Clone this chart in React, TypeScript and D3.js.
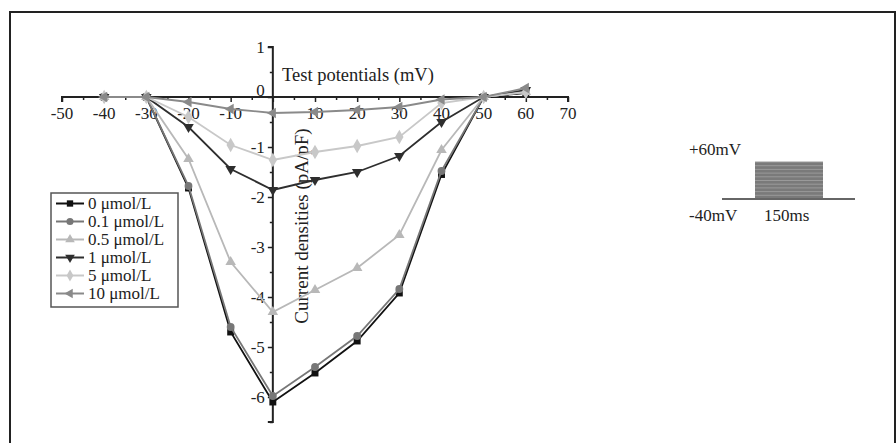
import React, { useEffect, useRef } from "react";
import * as d3 from "d3";

const potentials = [-40, -30, -20, -10, 0, 10, 20, 30, 40, 50, 60];

const seriesNames = ["0 μmol/L", "0.1 μmol/L", "0.5 μmol/L", "1 μmol/L", "5 μmol/L", "10 μmol/L"];

const conc0 = [0, 0, -1.82, -4.7, -6.1, -5.52, -4.88, -3.92, -1.55, 0, 0.08];
const conc01 = [0, 0, -1.78, -4.6, -5.98, -5.4, -4.78, -3.84, -1.48, 0, 0.1];
const conc05 = [0, 0, -1.24, -3.3, -4.3, -3.86, -3.42, -2.76, -1.06, 0, 0.1];
const conc1 = [0, 0, -0.6, -1.44, -1.86, -1.66, -1.5, -1.18, -0.5, 0, 0.14];
const conc5 = [0, 0, -0.4, -0.96, -1.26, -1.1, -0.98, -0.8, -0.12, 0, 0.1];
const conc10 = [0, 0, -0.1, -0.24, -0.32, -0.3, -0.26, -0.2, -0.05, 0, 0.18];

const seriesValues = [conc0, conc01, conc05, conc1, conc5, conc10];

const xTicks = [-50, -40, -30, -20, -10, 0, 10, 20, 30, 40, 50, 60, 70];
const yTicks = [1, 0, -1, -2, -3, -4, -5, -6];

// inset protocol: holding -40 mV, steps up to +60 mV for 150 ms
const stepLevels = [-30, -20, -10, 0, 10, 20, 30, 40, 50, 60];

const colors = ["#111111", "#777777", "#b8b8b8", "#2e2e2e", "#c8c8c8", "#8a8a8a"];
const symbols = [d3.symbolSquare, d3.symbolCircle, d3.symbolTriangle, d3.symbolTriangle, d3.symbolDiamond, d3.symbolTriangle];
const rotations = [0, 0, 0, 180, 0, -90];

const font = "'Liberation Serif', 'DejaVu Serif', serif";

function Chart() {
  const ref = useRef<SVGSVGElement>(null);

  useEffect(() => {
    const svg = d3.select(ref.current);
    svg.selectAll("*").remove();

    // frame
    svg.append("rect")
      .attr("x", 10).attr("y", 12)
      .attr("width", 885).attr("height", 445)
      .attr("fill", "none")
      .attr("stroke", "#222")
      .attr("stroke-width", 2);

    const xScale = d3.scaleLinear().domain([-50, 70]).range([62, 568]);
    const yScale = d3.scaleLinear().domain([-6.5, 1]).range([422, 47]);
    const x0 = xScale(0);
    const y0 = yScale(0);

    // x axis along y = 0
    const xAxis = d3.axisBottom(xScale)
      .tickValues(d3.range(-50, 71, 5))
      .tickSize(4)
      .tickFormat(() => "");
    const gx = svg.append("g")
      .attr("transform", `translate(0, ${y0})`)
      .call(xAxis);
    gx.select(".domain").attr("stroke", "#222").attr("stroke-width", 2)
      .attr("d", `M${xScale(-50)},5V0H${xScale(70)}V5`);
    gx.selectAll(".tick line").attr("stroke", "#222").attr("stroke-width", 1.5)
      .attr("y2", (d: any) => (d % 10 === 0 ? 5 : 3));

    svg.append("g").selectAll("text")
      .data(xTicks.filter(d => d !== 0))
      .enter()
      .append("text")
      .attr("x", d => xScale(d))
      .attr("y", y0 + 22)
      .attr("text-anchor", "middle")
      .attr("font-family", font)
      .attr("font-size", 17)
      .attr("fill", "#222")
      .text(d => d);

    // y axis along x = 0
    const yAxis = d3.axisLeft(yScale)
      .tickValues(d3.range(-6.5, 1.01, 0.5))
      .tickSize(4)
      .tickFormat(() => "");
    const gy = svg.append("g")
      .attr("transform", `translate(${x0}, 0)`)
      .call(yAxis);
    gy.select(".domain").attr("stroke", "#222").attr("stroke-width", 2)
      .attr("d", `M-5,${yScale(1)}H0V${yScale(-6.5)}H-5`);
    gy.selectAll(".tick line").attr("stroke", "#222").attr("stroke-width", 1.5)
      .attr("x2", (d: any) => (Math.abs(d % 1) < 1e-6 ? -5 : -3));

    svg.append("g").selectAll("text")
      .data(yTicks)
      .enter()
      .append("text")
      .attr("x", x0 - 8)
      .attr("y", d => yScale(d) + (d === 0 ? -1 : 6))
      .attr("text-anchor", "end")
      .attr("font-family", font)
      .attr("font-size", 17)
      .attr("fill", "#222")
      .text(d => d);

    // axis titles
    svg.append("text")
      .attr("x", 282).attr("y", 81)
      .attr("font-family", font)
      .attr("font-size", 18.5)
      .attr("fill", "#222")
      .text("Test potentials (mV)");

    svg.append("text")
      .attr("transform", `translate(308, 226) rotate(-90)`)
      .attr("text-anchor", "middle")
      .attr("font-family", font)
      .attr("font-size", 19)
      .attr("fill", "#222")
      .text("Current densities (pA/pF)");

    // series
    const line = d3.line<number>()
      .x((d, i) => xScale(potentials[i]))
      .y(d => yScale(d));

    seriesValues.forEach((vals, s) => {
      const g = svg.append("g");
      g.append("path")
        .datum(vals)
        .attr("d", line)
        .attr("fill", "none")
        .attr("stroke", colors[s])
        .attr("stroke-width", 1.8);
      g.selectAll("path.pt")
        .data(vals)
        .enter()
        .append("path")
        .attr("class", "pt")
        .attr("d", d3.symbol().type(symbols[s]).size(s === 4 ? 60 : 48)())
        .attr("transform", (d, i) => `translate(${xScale(potentials[i])}, ${yScale(d)}) rotate(${rotations[s]})`)
        .attr("fill", colors[s]);
    });

    // legend
    const legend = svg.append("g");
    legend.append("rect")
      .attr("x", 51).attr("y", 193)
      .attr("width", 127).attr("height", 114)
      .attr("fill", "#fff")
      .attr("stroke", "#555")
      .attr("stroke-width", 1.5);
    seriesNames.forEach((name, s) => {
      const ly = 203.5 + s * 18;
      legend.append("line")
        .attr("x1", 56).attr("x2", 84)
        .attr("y1", ly).attr("y2", ly)
        .attr("stroke", colors[s])
        .attr("stroke-width", 2);
      legend.append("path")
        .attr("d", d3.symbol().type(symbols[s]).size(40)())
        .attr("transform", `translate(70, ${ly}) rotate(${rotations[s]})`)
        .attr("fill", colors[s]);
      legend.append("text")
        .attr("x", 88).attr("y", ly + 5)
        .attr("font-family", font)
        .attr("font-size", 17)
        .attr("fill", "#222")
        .text(name);
    });

    // inset: voltage protocol
    const inset = svg.append("g");
    const vScale = d3.scaleLinear().domain([-40, 60]).range([199, 162]);
    inset.append("rect")
      .attr("x", 755).attr("y", vScale(60))
      .attr("width", 68).attr("height", vScale(-40) - vScale(60))
      .attr("fill", "#7a7a7a");
    inset.selectAll("line.step")
      .data(stepLevels)
      .enter()
      .append("line")
      .attr("class", "step")
      .attr("x1", 755).attr("x2", 823)
      .attr("y1", d => vScale(d)).attr("y2", d => vScale(d))
      .attr("stroke", "#9a9a9a")
      .attr("stroke-width", 1);
    inset.append("line")
      .attr("x1", 722).attr("x2", 855)
      .attr("y1", vScale(-40)).attr("y2", vScale(-40))
      .attr("stroke", "#666")
      .attr("stroke-width", 2);
    inset.append("text")
      .attr("x", 689).attr("y", 155)
      .attr("font-family", font).attr("font-size", 17).attr("fill", "#222")
      .text("+60mV");
    inset.append("text")
      .attr("x", 689).attr("y", 221)
      .attr("font-family", font).attr("font-size", 17).attr("fill", "#222")
      .text("-40mV");
    inset.append("text")
      .attr("x", 764).attr("y", 221)
      .attr("font-family", font).attr("font-size", 17).attr("fill", "#222")
      .text("150ms");
  }, []);

  return (
    <svg ref={ref} width={896} height={443}
      style={{ position: "absolute", left: 0, top: 0, background: "#fff" }} />
  );
}

export default function App() {
  return <Chart />;
}
